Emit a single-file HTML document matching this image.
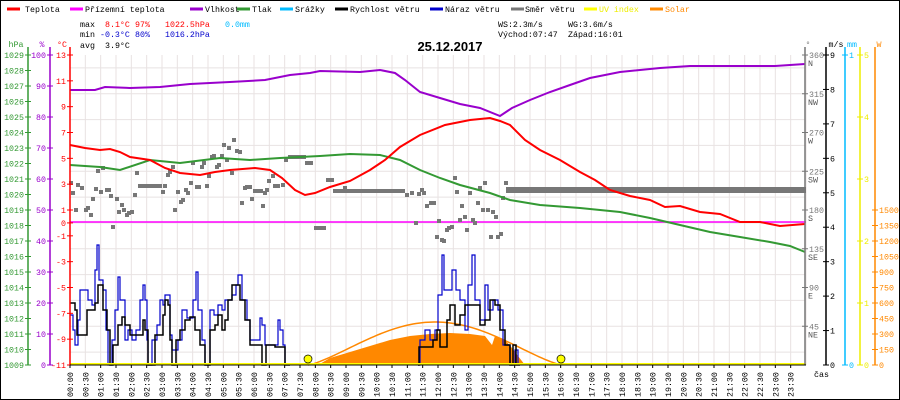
<!DOCTYPE html>
<html><head><meta charset="utf-8"><style>
body{margin:0;background:#fff}
svg{display:block;font-family:"Liberation Mono",monospace;font-size:8.3px}
</style></head><body>
<svg id="s" width="900" height="400" xmlns="http://www.w3.org/2000/svg">
<rect x="0.5" y="0.5" width="899" height="399" fill="#fff" stroke="#000"/>
<g id="grid"></g>
<g id="data"></g>
<g id="axes"></g>
<g id="txt">
<line x1="7" y1="9" x2="20" y2="9" stroke="#f00" stroke-width="3"/><text x="25" y="12">Teplota</text>
<line x1="70" y1="9" x2="83" y2="9" stroke="#f0f" stroke-width="3"/><text x="85" y="12">Přízemní teplota</text>
<line x1="190" y1="9" x2="203" y2="9" stroke="#90c" stroke-width="3"/><text x="205" y="12">Vlhkost</text>
<line x1="237" y1="9" x2="250" y2="9" stroke="#393" stroke-width="3"/><text x="252" y="12">Tlak</text>
<line x1="280" y1="9" x2="293" y2="9" stroke="#0bf" stroke-width="3"/><text x="295" y="12">Srážky</text>
<line x1="335" y1="9" x2="348" y2="9" stroke="#000" stroke-width="3"/><text x="350" y="12">Rychlost větru</text>
<line x1="430" y1="9" x2="443" y2="9" stroke="#00c" stroke-width="3"/><text x="445" y="12">Náraz větru</text>
<line x1="511" y1="9" x2="524" y2="9" stroke="#777" stroke-width="3"/><text x="525" y="12">Směr větru</text>
<line x1="584" y1="9" x2="597" y2="9" stroke="#ff0" stroke-width="3"/><text x="599" y="12" fill="#ee0">UV index</text>
<line x1="650" y1="9" x2="663" y2="9" stroke="#f80" stroke-width="3"/><text x="665" y="12" fill="#f80">Solar</text>
<text x="80" y="27">max</text><text x="105" y="27" fill="#f00">8.1°C</text><text x="135" y="27" fill="#f00">97%</text><text x="165" y="27" fill="#f00">1022.5hPa</text><text x="225" y="27" fill="#0bf">0.0mm</text>
<text x="80" y="37">min</text><text x="100" y="37" fill="#00c">-0.3°C</text><text x="135" y="37" fill="#00c">80%</text><text x="165" y="37" fill="#00c">1016.2hPa</text>
<text x="80" y="48">avg</text><text x="105" y="48">3.9°C</text>
<text x="498" y="27">WS:2.3m/s</text><text x="568" y="27">WG:3.6m/s</text>
<text x="498" y="37">Východ:07:47</text><text x="568" y="37">Západ:16:01</text>
<text x="450" y="51" text-anchor="middle" font-weight="bold" font-size="13" font-family="Liberation Sans,sans-serif">25.12.2017</text>
</g>
</svg>
<script>
var NS="http://www.w3.org/2000/svg";
function el(p,t,a,tx){var e=document.createElementNS(NS,t);for(var k in a)e.setAttribute(k,a[k]);if(tx!==undefined)e.textContent=tx;document.getElementById(p).appendChild(e);return e;}
var X0=70,X1=806,T=55,B=365,HH=(X1-X0)/48;
for(var i=0;i<=48;i++){var x=X0+i*HH;el('grid','line',{x1:x,y1:T,x2:x,y2:B,stroke:'#e8e2e2'});}
for(var c=12;c>=-10;c-=2){var y=T+(13-c)*(B-T)/24;el('grid','line',{x1:X0,y1:y,x2:X1,y2:y,stroke:'#e8e2e2'});}
function pl(pts,col,w){el('data','polyline',{points:pts,fill:'none',stroke:col,'stroke-width':w||2});}
var sf="318,365 330,358 350,352 370,346 390,340 410,336 430,334 450,333 470,334 485,336 492,345 495,336 505,340 512,348 518,356 525,365";
el('data','polygon',{points:sf,fill:'#f80'});
var cs=[];for(var x=308;x<=562;x+=3){var f=Math.sin(Math.PI*(x-308)/254);cs.push(x+','+(365-43*Math.pow(f,1.3)));}
pl(cs.join(' '),'#f80',1.5);
el('data','line',{x1:X0,y1:222,x2:X1,y2:222,stroke:'#f0f','stroke-width':1.5});
function step(a){var o=[];for(var i=0;i<a.length;i+=2){if(i>0)o.push(a[i]+','+a[i-1]);o.push(a[i]+','+a[i+1]);}return o.join(' ');}
var g1=[70,315,73,330,75,345,78,320,80,290,85,290,88,300,92,305,95,270,97,245,99,280,103,290,106,330,108,365,112,340,115,310,118,277,120,300,125,340,128,330,132,340,136,330,140,300,143,285,145,300,147,340,148,365,152,340,157,325,160,300,163,305,165,295,170,335,172,350,178,340,182,310,187,318,193,300,196,272,198,310,202,340,205,365,210,310,214,315,218,305,222,310,225,300,230,300,232,295,236,285,238,275,242,300,247,320,250,340,255,340,260,318,262,325,265,345,275,345,278,320,280,330,283,345,285,365];
var b1=[70,303,75,310,77,335,85,335,87,310,95,303,98,285,102,285,103,310,107,330,110,365,113,345,118,325,122,317,125,325,130,335,140,335,143,320,145,330,148,365,152,365,155,335,160,335,163,315,165,300,168,305,170,340,172,365,176,340,180,330,185,320,190,317,195,330,200,345,205,365,210,330,215,325,218,315,222,330,225,320,228,300,232,285,236,285,240,300,245,320,250,345,258,345,262,365,266,345,275,347,282,347,285,365,290,365];
var g2=[418,365,420,340,425,330,430,340,435,330,438,295,442,255,444,290,448,290,452,270,456,290,460,300,465,330,468,285,472,255,475,300,480,320,485,285,488,310,493,300,498,310,503,345,510,365,515,350,518,365];
var b2=[418,365,419,347,430,347,433,340,437,330,440,347,443,347,447,320,450,305,455,325,460,315,465,305,475,305,480,325,485,320,490,300,495,305,500,330,505,345,510,365,513,345,516,365,520,365];
pl(step(g1),'#00c',1.2);pl(step(g2),'#00c',1.2);pl(step(b1),'#000',1.5);pl(step(b2),'#000',1.5);
var d=[[71,183],[73,193],[76,210],[78,185],[82,188],[86,210],[88,208],[91,215],[93,199],[96,189],[98,171],[101,192],[103,168],[107,190],[109,190],[111,196],[113,227],[117,199],[119,212],[122,205],[124,210],[127,215],[129,213],[132,212],[135,195],[137,173],[140,186],[144,186],[148,186],[152,186],[156,186],[160,186],[163,192],[165,186],[168,175],[170,172],[173,167],[175,210],[178,192],[181,202],[183,200],[186,190],[188,193],[191,183],[193,163],[197,187],[199,187],[202,167],[204,163],[207,186],[209,176],[212,157],[214,156],[217,167],[219,165],[222,156],[224,145],[227,160],[229,148],[232,173],[234,140],[237,151],[240,152],[242,203],[245,188],[247,187],[250,187],[252,199],[255,191],[258,191],[261,191],[263,206],[265,193],[267,190],[269,181],[273,176],[275,186],[278,186],[283,185],[286,160],[307,163],[311,163],[316,228],[320,228],[324,228],[328,180],[332,180],[345,188],[407,195],[412,193],[416,223],[419,194],[422,190],[424,193],[427,206],[431,203],[434,203],[437,237],[439,221],[442,240],[444,241],[447,230],[449,228],[452,227],[455,178],[457,192],[460,220],[462,206],[465,217],[467,230],[470,193],[473,220],[475,223],[478,203],[480,188],[483,210],[485,183],[488,210],[491,237],[493,212],[496,217],[498,237],[501,234],[503,198],[506,183]];
d.forEach(function(p){el('data','rect',{x:p[0]-2,y:p[1]-2,width:4,height:4,fill:'#777'});});
el('data','rect',{x:288,y:155,width:18,height:4,fill:'#777'});
el('data','rect',{x:333,y:189,width:72,height:4,fill:'#777'});
el('data','rect',{x:506,y:187,width:300,height:6,fill:'#777'});
pl("70,165 100,167 120,170 150,160 180,163 220,158 250,160 280,158 320,156 350,154 380,155 400,160 420,170 440,178 460,185 490,193 510,200 540,205 580,208 620,212 650,218 680,225 710,232 740,237 770,242 790,246 805,252",'#393');
pl("70,145 85,148 100,150 110,149 120,152 130,157 150,160 165,168 180,173 200,175 215,172 230,170 255,168 270,170 282,178 295,190 305,195 315,193 330,187 350,181 370,170 385,160 400,147 420,135 445,125 470,120 490,118 500,121 510,125 525,140 540,150 560,160 580,172 595,180 610,190 630,196 650,200 665,207 680,206 700,212 720,214 740,222 760,222 780,226 805,224",'#f00');
pl("70,90 95,90 105,87 130,88 160,87 190,84 230,82 265,80 290,75 310,73 320,71 360,72 380,70 395,73 405,80 420,92 440,98 460,104 480,108 500,116 512,108 530,100 550,92 570,85 590,78 620,72 660,68 690,66 775,66 805,64",'#90c');
el('data','line',{x1:X0,y1:364,x2:X1,y2:364,stroke:'#ff0','stroke-width':2});
el('data','circle',{cx:308,cy:359,r:4,fill:'#ff0',stroke:'#000','stroke-width':0.7});
el('data','circle',{cx:561,cy:359,r:4,fill:'#ff0',stroke:'#000','stroke-width':0.7});
function axis(x,col,ticks,side,lbl,lx){el('axes','line',{x1:x,y1:T-8,x2:x,y2:B,stroke:col,'stroke-width':1.5});
ticks.forEach(function(t){el('axes','line',{x1:x-3,y1:t[1],x2:x+3,y2:t[1],stroke:col});
el('axes','text',{x:side<0?x-4:x+4,y:t[1]+3,fill:col,'text-anchor':side<0?'end':'start'},t[0]);});
el('axes','text',{x:lx,y:47,fill:col,'text-anchor':'middle'},lbl);}
var t=[];for(var h=1029;h>=1009;h--)t.push([h,T+(1029-h)*15.5]);axis(28,'#393',t,-1,'hPa',16);
t=[];for(var p=100;p>=0;p-=10)t.push([p,T+(100-p)*3.1]);axis(50,'#90c',t,-1,'%',42);
t=[];[13,11,9,7,5,3,1,0,-1,-3,-5,-7,-9,-11].forEach(function(c){t.push([c,T+(13-c)*310/24]);});axis(70,'#f00',t,-1,'°C',62);
t=[];[[360,'N'],[315,'NW'],[270,'W'],[225,'SW'],[180,'S'],[135,'SE'],[90,'E'],[45,'NE']].forEach(function(q){var y=T+(360-q[0])*310/360;t.push([q[0],y]);el('axes','text',{x:808,y:y+11,fill:'#555'},q[1]);});
axis(805,'#777',t,1,'°',808);
t=[];for(var m=9;m>=0;m--)t.push([m,T+(9-m)*310/9]);axis(826,'#000',t,1,'m/s',836);
axis(845,'#0bf',[[1,T],[0,B]],1,'mm',852);
t=[];for(var u=5;u>=0;u--)t.push([u,T+(5-u)*62]);axis(860,'#ee0',t,1,'',860);
t=[];for(var w=1500;w>=0;w-=150)t.push([w,B-w*155/1500]);axis(875,'#f80',t,1,'W',879);
el('axes','line',{x1:X0,y1:B,x2:X1,y2:B,stroke:'#000'});
for(var i=0;i<48;i++){var x=X0+i*HH;var hh=Math.floor(i/2),mm=i%2?'30':'00';var s=(hh<10?'0':'')+hh+':'+mm;
el('axes','line',{x1:x,y1:B,x2:x,y2:B+3,stroke:'#000'});
el('axes','text',{x:0,y:0,transform:'translate('+(x+3)+',397) rotate(-90)','font-size':'8.3'},s);}
el('axes','text',{x:814,y:377},'čas');
</script>
</body></html>
